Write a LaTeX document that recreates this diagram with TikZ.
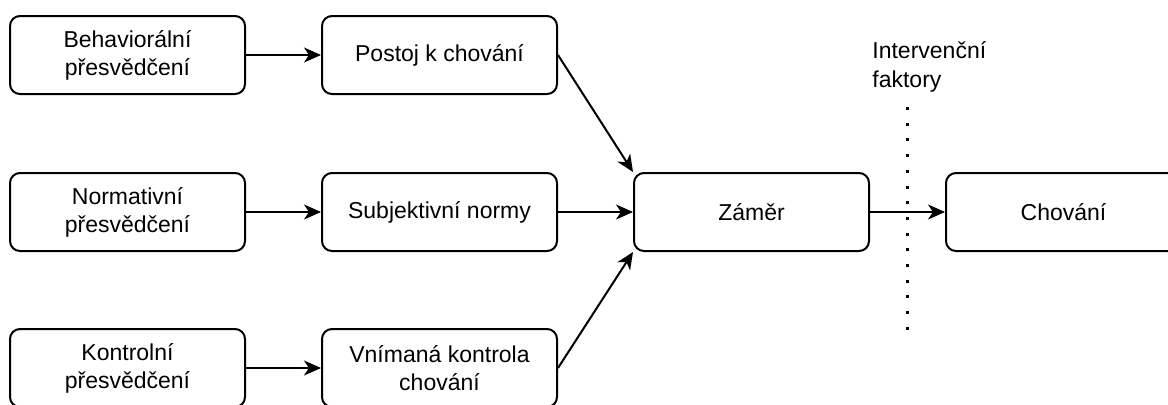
\documentclass[tikz,border=0pt]{standalone}
\usepackage{fontspec}
\setmainfont{Liberation Sans}
\usetikzlibrary{arrows.meta}

\begin{document}
\begin{tikzpicture}[
		x=0.5pt, y=-0.5pt,
		every node/.style={font=\fontsize{11.5}{14}\selectfont},
		box/.style={rectangle, draw, line width=1pt, rounded corners=5pt,
			minimum width=117.5pt, minimum height=39pt, align=center, inner sep=0pt},
		arr/.style={line width=1pt, -{Stealth[length=8.5pt, width=7.5pt, inset=2.5pt]}}
	]
  \useasboundingbox (0,0) rectangle (1168,404);
  \begin{scope}
  \clip (0,0) rectangle (1168,404);
  \node (beh) [box] at (127.5, 55) {Behaviorální\\přesvědčení};
  \node (postoj) [box] at (439.5, 55) {Postoj k chování};
  \node (norm) [box] at (127.5, 212) {Normativní\\přesvědčení};
  \node (subj) [box] at (439.5, 212) {Subjektivní normy};
  \node (kontr) [box] at (127.5, 368) {Kontrolní\\přesvědčení};
  \node (vnim) [box] at (439.5, 368) {Vnímaná kontrola\\chování};
  \node (zamer) [box] at (751.5, 212) {Záměr};
  \node (chovani) [box] at (1063.5, 212) {Chování};
  \end{scope}
  \node (interv) [anchor=north west, align=left, inner sep=0pt,
    font=\fontsize{11.5}{14.5}\selectfont] at (872, 41) {Intervenční\\faktory};
  \coordinate (d_top) at (907, 107);
  \coordinate (d_bot) at (907, 330);
  \draw (beh) edge [arr] (postoj);
  \draw (norm) edge [arr] (subj);
  \draw (kontr) edge [arr] (vnim);
  \draw (postoj.east) edge [arr] (zamer.north west);
  \draw (subj) edge [arr] (zamer);
  \draw (vnim.east) edge [arr] (zamer.south west);
  \draw (zamer) edge [arr] (chovani);
  \draw (d_top) -- (d_bot) [line width=1.5pt, dash pattern=on 1.5pt off 6.35pt];
\end{tikzpicture}
\end{document}
